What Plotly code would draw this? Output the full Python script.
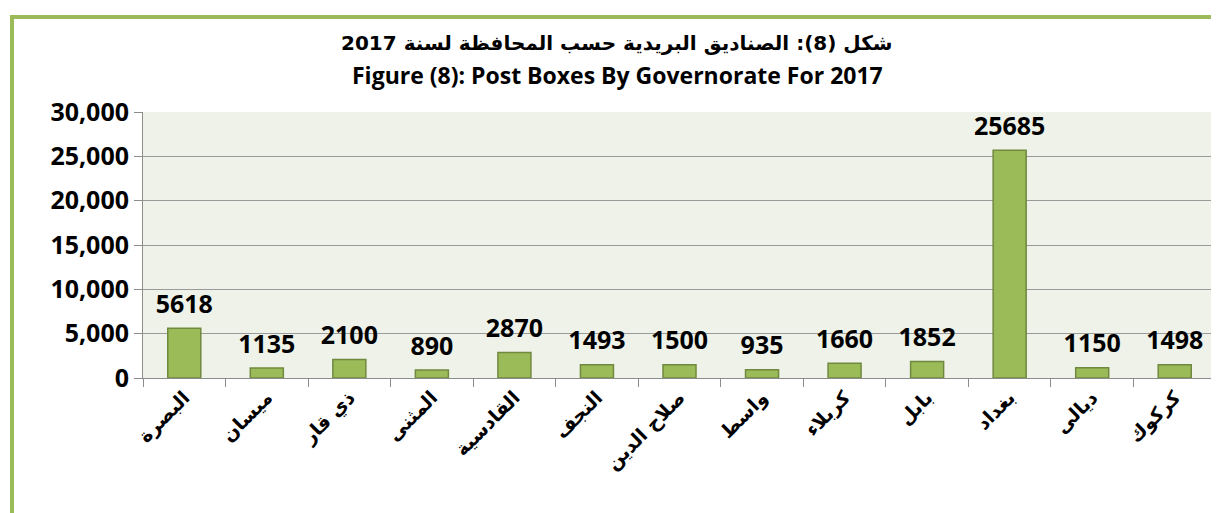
import plotly.graph_objects as go

governorates = ["البصرة", "ميسان", "ذي قار", "المثنى", "القادسية", "النجف", "صلاح الدين",
                "واسط", "كربلاء", "بابل", "بغداد", "ديالى", "كركوك"]
post_boxes = [5618, 1135, 2100, 890, 2870, 1493, 1500, 935, 1660, 1852, 25685, 1150, 1498]
y_ticks = [0, 5000, 10000, 15000, 20000, 25000, 30000]
y_tick_labels = ["0", "5,000", "10,000", "15,000", "20,000", "25,000", "30,000"]
title_ar = "شكل (8): الصناديق البريدية حسب المحافظة لسنة 2017"
title_en = "Figure (8): Post Boxes By Governorate For 2017"

# page body has an 8px margin; figure origin sits at (8, 8) in the screenshot
OFF = 8
W, H = 1211, 505
L, R, T, B = 143 - OFF, 3, 112 - OFF, H - (378 - OFF)
pw, ph = W - L - R, H - T - B

def px_x(x):
    return (x - OFF - L) / pw

def px_y(y):
    return (H - B - (y - OFF)) / ph

NUM_FONT = "Open Sans, Lato, sans-serif"
AR_FONT = "DejaVu Sans, Noto Sans, sans-serif"

fig = go.Figure()
fig.add_trace(go.Bar(
    x=governorates, y=post_boxes,
    marker=dict(color="#9BBB59", line=dict(color="#71893F", width=1.5)),
    width=0.4, hoverinfo="x+y",
))
fig.add_trace(go.Scatter(
    x=governorates, y=post_boxes, mode="markers+text",
    marker=dict(size=13, opacity=0),
    text=[str(v) for v in post_boxes], textposition="top center",
    textfont=dict(family=NUM_FONT, size=25, color="black", weight="bold"),
    cliponaxis=False, hoverinfo="skip",
))

fig.update_layout(
    width=W, height=H,
    margin=dict(l=L, r=R, t=T, b=B, autoexpand=False),
    paper_bgcolor="white", plot_bgcolor="#EEF2E8",
    showlegend=False,
    xaxis=dict(
        automargin=False, range=[-0.5, len(governorates) - 0.5],
        tickangle=-45, tickson="boundaries", ticks="outside", ticklen=8, tickcolor="#8C8C8C",
        showgrid=False, showline=True, linecolor="#8C8C8C", linewidth=1,
        tickfont=dict(family=AR_FONT, size=19, color="black", weight="bold"),
    ),
    yaxis=dict(
        automargin=False,
        range=[0, 30000], tickvals=y_ticks, ticktext=y_tick_labels,
        ticks="outside", ticklen=8, tickcolor="#8C8C8C",
        showgrid=True, gridcolor="#9A9A9A", gridwidth=1,
        showline=True, linecolor="#8C8C8C", linewidth=1, zeroline=False,
        tickfont=dict(family=NUM_FONT, size=25, color="black", weight="bold"),
    ),
    shapes=[dict(type="rect", xref="paper", yref="paper",
                 x0=px_x(12), x1=px_x(1300), y0=px_y(600), y1=px_y(17),
                 line=dict(color="#9BBB59", width=4), layer="below")],
    annotations=[
        dict(text=title_ar, xref="paper", yref="paper", x=px_x(617), y=px_y(43),
             showarrow=False, xanchor="center", yanchor="middle",
             font=dict(family=AR_FONT, size=20, color="black", weight="bold")),
        dict(text=title_en, xref="paper", yref="paper", x=px_x(617), y=px_y(75),
             showarrow=False, xanchor="center", yanchor="middle",
             font=dict(family=NUM_FONT, size=23, color="black", weight="bold")),
    ],
)

fig.write_html("out.html")
